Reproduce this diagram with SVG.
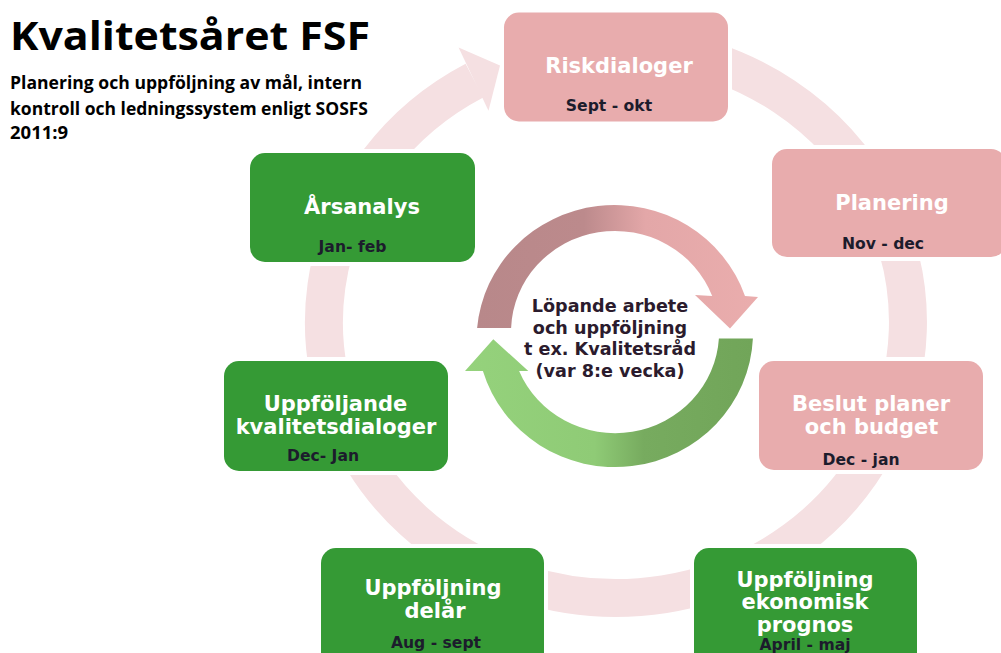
<svg xmlns="http://www.w3.org/2000/svg" width="1001" height="653" viewBox="0 0 1001 653">
  <style>
    .pink { fill: #E8ACAD; stroke: #FFFFFF; stroke-width: 8; paint-order: stroke; }
    .green { fill: #359A35; stroke: #FFFFFF; stroke-width: 8; paint-order: stroke; }
    .ttl { font-family: "DejaVu Sans", Verdana, sans-serif; font-weight: bold; font-size: 21px; fill: #FFFFFF; text-anchor: middle; }
    .date { font-family: "DejaVu Sans", Verdana, sans-serif; font-weight: bold; font-size: 15.6px; fill: #1C1C2C; text-anchor: middle; }
    .center { font-family: "DejaVu Sans", Verdana, sans-serif; font-weight: bold; font-size: 17.6px; fill: #2B1B2D; text-anchor: middle; }
    .head { font-family: "Open Sans", "Liberation Sans", sans-serif; font-weight: bold; fill: #000000; }
  </style>
  <defs>
    <linearGradient id="topGrad" gradientUnits="userSpaceOnUse" x1="477" y1="0" x2="758" y2="0">
      <stop offset="0" stop-color="#B8888A"/>
      <stop offset="0.38" stop-color="#BC8A8C"/>
      <stop offset="0.6" stop-color="#E3A7A8"/>
      <stop offset="1" stop-color="#EAADAD"/>
    </linearGradient>
    <linearGradient id="greenGrad" gradientUnits="userSpaceOnUse" x1="465" y1="0" x2="753" y2="0">
      <stop offset="0" stop-color="#95D27C"/>
      <stop offset="0.45" stop-color="#8FCB76"/>
      <stop offset="0.62" stop-color="#77AB5F"/>
      <stop offset="1" stop-color="#71A559"/>
    </linearGradient>
  </defs>

  <rect width="1001" height="653" fill="#FFFFFF"/>

  <!-- Title -->
  <g id="title">
    <text class="head" x="10" y="50" font-size="39" textLength="360" lengthAdjust="spacingAndGlyphs">Kvalitetsåret FSF</text>
    <text class="head" x="10" y="89" font-size="18.5" textLength="352" lengthAdjust="spacingAndGlyphs">Planering och uppföljning av mål, intern</text>
    <text class="head" x="10" y="115" font-size="18.5" textLength="358" lengthAdjust="spacingAndGlyphs">kontroll och ledningssystem enligt SOSFS</text>
    <text class="head" x="10" y="139" font-size="18.5">2011:9</text>
  </g>

  <!-- Connectors: outer cycle ring and inner circular arrows -->
  <g id="connectors">
    <path d="M666.7,50.2 A292,276 0 1 1 474.4,80.6" fill="none" stroke="#F5E0E2" stroke-width="38"/>
    <polygon points="458.6,47.5 500,65.5 488.5,110.7" fill="#F5E0E2"/>
    <path d="M477.1,328 A138,135 0 0 1 745,296 L758,297 L730,328.5 L695,295 L712.2,296 A104,101 0 0 0 511.1,328 Z" fill="url(#topGrad)"/>
    <path d="M752.9,338.5 A138,135 0 0 1 482.9,371 L465,371 L493.3,339.3 L528.3,371 L519.1,371 A104,101 0 0 0 718.9,338.5 Z" fill="url(#greenGrad)"/>
  </g>

  <g id="node-riskdialoger">
    <rect class="pink" x="504" y="12.5" width="224" height="109" rx="15"/>
    <text class="ttl" x="619" y="73">Riskdialoger</text>
    <text class="date" x="609" y="111">Sept - okt</text>
  </g>

  <g id="node-planering">
    <rect class="pink" x="772" y="149" width="234" height="108" rx="15"/>
    <text class="ttl" x="892" y="210">Planering</text>
    <text class="date" x="883" y="249">Nov - dec</text>
  </g>

  <g id="node-beslut">
    <rect class="pink" x="759" y="361" width="224" height="109" rx="15"/>
    <text class="ttl" x="871" y="410.5">Beslut planer</text>
    <text class="ttl" x="871.5" y="433.5">och budget</text>
    <text class="date" x="861" y="465">Dec - jan</text>
  </g>

  <g id="node-prognos">
    <rect class="green" x="694" y="548" width="223" height="125" rx="15"/>
    <text class="ttl" x="805" y="587">Uppföljning</text>
    <text class="ttl" x="805" y="609">ekonomisk</text>
    <text class="ttl" x="805" y="632">prognos</text>
    <text class="date" x="805" y="650">April - maj</text>
  </g>

  <g id="node-delar">
    <rect class="green" x="321" y="548" width="223" height="125" rx="15"/>
    <text class="ttl" x="433" y="595">Uppföljning</text>
    <text class="ttl" x="435" y="618">delår</text>
    <text class="date" x="436" y="648">Aug - sept</text>
  </g>

  <g id="node-kvalitetsdialoger">
    <rect class="green" x="224" y="361" width="224" height="110" rx="15"/>
    <text class="ttl" x="335.5" y="410.5">Uppföljande</text>
    <text class="ttl" x="336" y="434">kvalitetsdialoger</text>
    <text class="date" x="323" y="461">Dec- Jan</text>
  </g>

  <g id="node-arsanalys">
    <rect class="green" x="250" y="153" width="225" height="109" rx="15"/>
    <text class="ttl" x="362" y="214">Årsanalys</text>
    <text class="date" x="352.5" y="252">Jan- feb</text>
  </g>

  <g id="node-center">
    <text class="center" x="610" y="312">Löpande arbete</text>
    <text class="center" x="610" y="333.5">och uppföljning</text>
    <text class="center" x="610" y="355">t ex. Kvalitetsråd</text>
    <text class="center" x="610" y="377">(var 8:e vecka)</text>
  </g>
</svg>
